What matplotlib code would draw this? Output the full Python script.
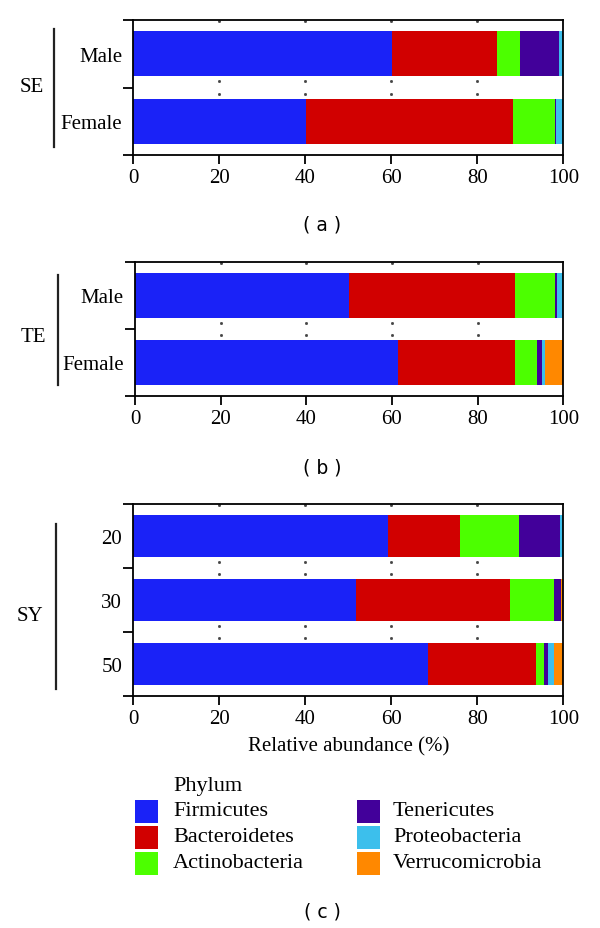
import numpy as np
import matplotlib
matplotlib.use("Agg")
import matplotlib.pyplot as plt
from matplotlib.patches import Rectangle
from matplotlib.lines import Line2D

# ---------------- data ----------------
phyla = ["Firmicutes", "Bacteroidetes", "Actinobacteria",
         "Tenericutes", "Proteobacteria", "Verrucomicrobia"]
colors = ["#1a22f7", "#d10000", "#4cff00", "#42009a", "#3cbfec", "#ff8800"]

se_labels = ["Male", "Female"]
se_male = [60.2, 24.4, 5.4, 9.1, 0.9, 0.0]
se_female = [40.2, 48.0, 9.8, 0.3, 1.7, 0.0]

te_labels = ["Male", "Female"]
te_male = [50.0, 38.8, 9.3, 0.4, 1.5, 0.0]
te_female = [61.3, 27.4, 5.1, 1.3, 0.6, 4.3]

sy_labels = ["20", "30", "50"]
sy_20 = [59.3, 16.7, 13.8, 9.4, 0.8, 0.0]
sy_30 = [51.9, 35.7, 10.2, 1.6, 0.1, 0.5]
sy_50 = [68.6, 25.0, 2.0, 0.9, 1.3, 2.2]

x_ticks = [0, 20, 40, 60, 80, 100]
group_names = ["SE", "TE", "SY"]
panel_tags = ["( a )", "( b )", "( c )"]
xlabel = "Relative abundance (%)"
legend_title = "Phylum"

# ---------------- layout ----------------
W, H = 600, 929
fig = plt.figure(figsize=(W / 100, H / 100), dpi=100)
SERIF = "Liberation Serif"
FS = 15
LFS = 16


def fx(px):
    return px / W


def fy(py):
    return 1 - py / H


def make_axes(left, right, top, bottom):
    return fig.add_axes([fx(left), fy(bottom), fx(right - left), (bottom - top) / H])


panels = [
    (make_axes(133.3, 563.3, 21, 156), se_labels, [se_male, se_female]),
    (make_axes(135, 563.3, 263, 397), te_labels, [te_male, te_female]),
    (make_axes(133.3, 563.3, 505, 696.7), sy_labels, [sy_20, sy_30, sy_50]),
]

for ax, labels, rows in panels:
    n = len(labels)
    ypos = np.arange(n)
    data = np.array(rows)  # rows x phyla
    left = np.zeros(n)
    for j, name in enumerate(phyla):
        ax.barh(ypos, data[:, j], left=left, height=0.66, color=colors[j],
                edgecolor="none", label=name, zorder=2)
        left += data[:, j]
    ax.set_xlim(0, 100)
    ax.set_ylim(n - 0.5, -0.5)
    ax.set_xticks(x_ticks)
    ax.set_xticklabels([str(t) for t in x_ticks], fontfamily=SERIF, fontsize=FS)
    # boundary ticks (major) without labels, category labels on minor ticks
    ax.set_yticks(np.arange(n + 1) - 0.5)
    ax.set_yticklabels([])
    ax.set_yticks(ypos, minor=True)
    ax.set_yticklabels(labels, minor=True, fontfamily=SERIF, fontsize=FS)
    ax.tick_params(axis="y", which="major", direction="out", length=7, width=1.3)
    ax.tick_params(axis="y", which="minor", length=0, pad=8)
    ax.tick_params(axis="x", direction="out", length=6.5, width=1.3, pad=3)
    for sp in ax.spines.values():
        sp.set_linewidth(1.3)
    # faint dot marks between bars at x tick positions
    for b in np.arange(1, n) - 0.5:
        for xt in x_ticks[1:-1]:
            ax.plot([xt, xt], [b - 0.09, b + 0.09], linestyle="none", marker="s",
                    markersize=1.0, color="#444444", zorder=1)
    for xt in x_ticks[1:-1]:
        ax.plot([xt], [-0.48], linestyle="none", marker="s", markersize=1.0,
                color="#444444", zorder=1)

panels[2][0].set_xlabel(xlabel, fontfamily=SERIF, fontsize=FS, labelpad=6)

# ---------------- group brackets ----------------
brackets = [(54.3, 30, 148.3, 31.7, 87.3),
            (57.7, 276, 386, 33.3, 338),
            (55.7, 525, 690, 30, 616.7)]
for name, (lx, y0, y1, tx, ty) in zip(group_names, brackets):
    fig.add_artist(Line2D([fx(lx), fx(lx)], [fy(y0), fy(y1)],
                          transform=fig.transFigure, color="#222222", lw=1.6))
    fig.text(fx(tx), fy(ty), name, ha="center", va="center",
             fontfamily=SERIF, fontsize=FS)

# ---------------- panel tags ----------------
for tag, ty in zip(panel_tags, [225, 468, 911.7]):
    fig.text(fx(322.5), fy(ty), tag, ha="center", va="center",
             fontfamily="DejaVu Sans", fontsize=13.5)

# ---------------- legend ----------------
fig.text(fx(173), fy(787), legend_title, ha="left", va="center",
         fontfamily=SERIF, fontsize=LFS)
row_y = [812, 838, 864]
col_x = [(135, 173), (357, 393)]
for i, (name, col) in enumerate(zip(phyla, colors)):
    c, r = divmod(i, 3)
    sx, tx = col_x[c]
    yc = row_y[r]
    fig.add_artist(Rectangle((fx(sx), fy(yc + 11.5)), fx(23), 23 / H,
                             transform=fig.transFigure, facecolor=col,
                             edgecolor="none"))
    fig.text(fx(tx), fy(yc), name, ha="left", va="center",
             fontfamily=SERIF, fontsize=LFS)

fig.savefig("out.png", dpi=100)
